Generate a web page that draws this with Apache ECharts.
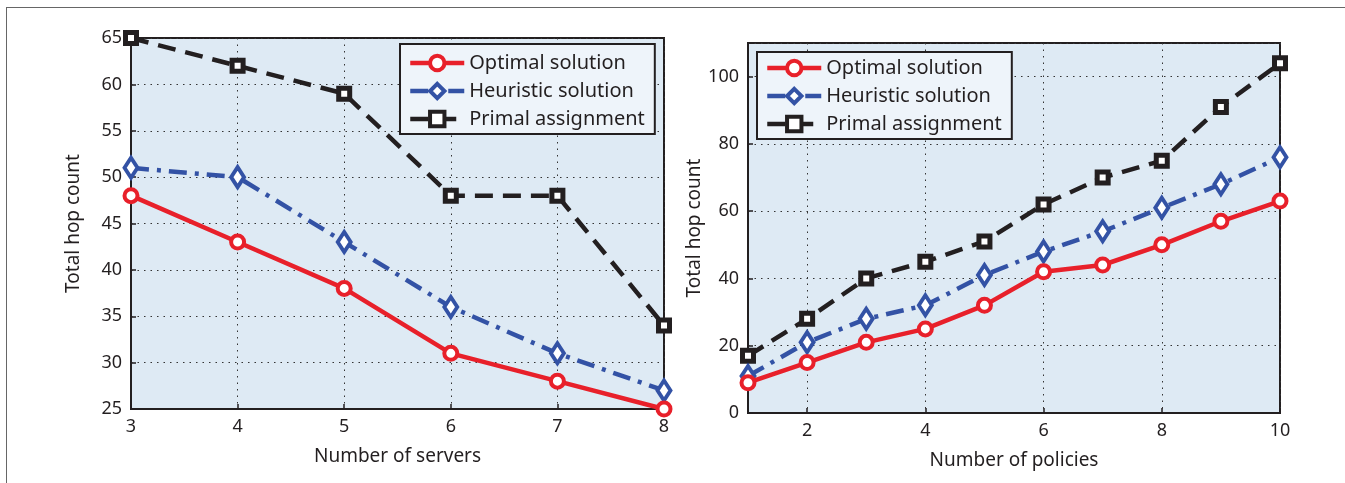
<!DOCTYPE html>
<html>
<head>
<meta charset="utf-8">
<script src="https://cdn.jsdelivr.net/npm/echarts@6/dist/echarts.min.js"></script>
<style>
  html, body { margin: 0; padding: 0; background: #fff; }
  #frame { position: absolute; left: 6px; top: 7px; width: 1339px; height: 476px; border-left: 1px solid #666; border-top: 1px solid #666; }
  #main { position: absolute; left: 0; top: 0; width: 1345px; height: 483px; }
</style>
</head>
<body>
<div id="frame"></div>
<div id="main"></div>
<script>
// left panel: number of servers
const servers = [3, 4, 5, 6, 7, 8];
const optimalServers = [48, 43, 38, 31, 28, 25];
const heuristicServers = [51, 50, 43, 36, 31, 27];
const primalServers = [65, 62, 59, 48, 48, 34];

// right panel: number of policies
const policies = [1, 2, 3, 4, 5, 6, 7, 8, 9, 10];
const optimalPolicies = [9, 15, 21, 25, 32, 42, 44, 50, 57, 63];
const heuristicPolicies = [11, 21, 28, 32, 41, 48, 54, 61, 68, 76];
const primalPolicies = [17, 28, 40, 45, 51, 62, 70, 75, 91, 104];
const policyTicks = [2, 4, 6, 8, 10];

const names = ['Optimal solution', 'Heuristic solution', 'Primal assignment'];

const font = 'Noto Sans';
const ink = '#231f20';

const pairs = (xs, ys) => xs.map((x, i) => [x, ys[i]]);

const looks = [
    { color: '#e8202a', symbol: 'circle', size: 13, border: 4, type: 'solid' },
    { color: '#3352a5', symbol: 'diamond', size: [13, 20], border: 4, type: [18, 8, 4, 8] },
    { color: ink, symbol: 'rect', size: 11, border: 5, type: [18, 10] }
];

function makeSeries(data, gridIndex) {
    return data.map((d, i) => {
        const s = looks[i];
        return {
            name: names[i],
            type: 'line',
            xAxisIndex: gridIndex,
            yAxisIndex: gridIndex,
            data: d,
            symbol: s.symbol,
            symbolSize: s.size,
            showAllSymbol: true,
            z: 10 - i,
            lineStyle: { color: s.color, width: 4.5, type: s.type },
            itemStyle: { color: '#fff', borderColor: s.color, borderWidth: s.border },
            emphasis: { disabled: true }
        };
    });
}

const dotted = { show: true, lineStyle: { color: '#333', width: 1, type: [1.5, 5] } };
const axisLine = { show: true, onZero: false, lineStyle: { color: ink, width: 2 } };
const tick = { show: true, inside: true, length: 5, lineStyle: { color: ink, width: 1.5 } };
const label = { color: ink, fontFamily: font, fontSize: 18, margin: 9 };
const nameStyle = { color: ink, fontFamily: font, fontSize: 19 };

function legend(left, top, padTop) {
    return {
        data: names,
        left: left,
        top: top,
        orient: 'vertical',
        itemWidth: 54,
        itemHeight: 18,
        itemGap: 8,
        padding: [padTop, 10, 5, 8],
        backgroundColor: '#eef4fa',
        borderColor: ink,
        borderWidth: 2,
        borderRadius: 0,
        selectedMode: false,
        lineStyle: { width: 4.5 },
        itemStyle: { borderWidth: 4 },
        textStyle: { color: ink, fontFamily: font, fontSize: 20 }
    };
}

const chart = echarts.init(document.getElementById('main'));
const option = {
    animation: false,
    legend: [legend(400, 44, 9), legend(757, 52, 6)],
    grid: [
        { left: 131, top: 38, width: 533, height: 371, show: true, backgroundColor: '#deeaf4', borderColor: ink, borderWidth: 2 },
        { left: 748, top: 43, width: 532, height: 370, show: true, backgroundColor: '#deeaf4', borderColor: ink, borderWidth: 2 }
    ],
    xAxis: [
        {
            type: 'value', gridIndex: 0, min: 3, max: 8, interval: 1,
            name: 'Number of servers', nameLocation: 'middle', nameGap: 38, nameTextStyle: nameStyle,
            axisLine: axisLine, axisTick: tick, axisLabel: label, splitLine: dotted
        },
        {
            type: 'value', gridIndex: 1, min: 1, max: 10,
            name: 'Number of policies', nameLocation: 'middle', nameGap: 38, nameTextStyle: nameStyle,
            axisLine: axisLine,
            axisTick: Object.assign({}, tick, { customValues: policyTicks }),
            axisLabel: Object.assign({}, label, { customValues: policyTicks }),
            splitLine: dotted
        }
    ],
    yAxis: [
        {
            type: 'value', gridIndex: 0, min: 25, max: 65, interval: 5,
            name: 'Total hop count', nameLocation: 'middle', nameGap: 48, nameTextStyle: nameStyle,
            axisLine: axisLine, axisTick: tick, axisLabel: label, splitLine: dotted
        },
        {
            type: 'value', gridIndex: 1, min: 0, max: 110, interval: 20,
            name: 'Total hop count', nameLocation: 'middle', nameGap: 42, nameTextStyle: nameStyle,
            axisLine: axisLine, axisTick: tick,
            axisLabel: Object.assign({}, label, { showMaxLabel: false }),
            splitLine: dotted
        }
    ],
    series: makeSeries([
        pairs(servers, optimalServers),
        pairs(servers, heuristicServers),
        pairs(servers, primalServers)
    ], 0).concat(makeSeries([
        pairs(policies, optimalPolicies),
        pairs(policies, heuristicPolicies),
        pairs(policies, primalPolicies)
    ], 1))
};
chart.setOption(option);
</script>
</body>
</html>
